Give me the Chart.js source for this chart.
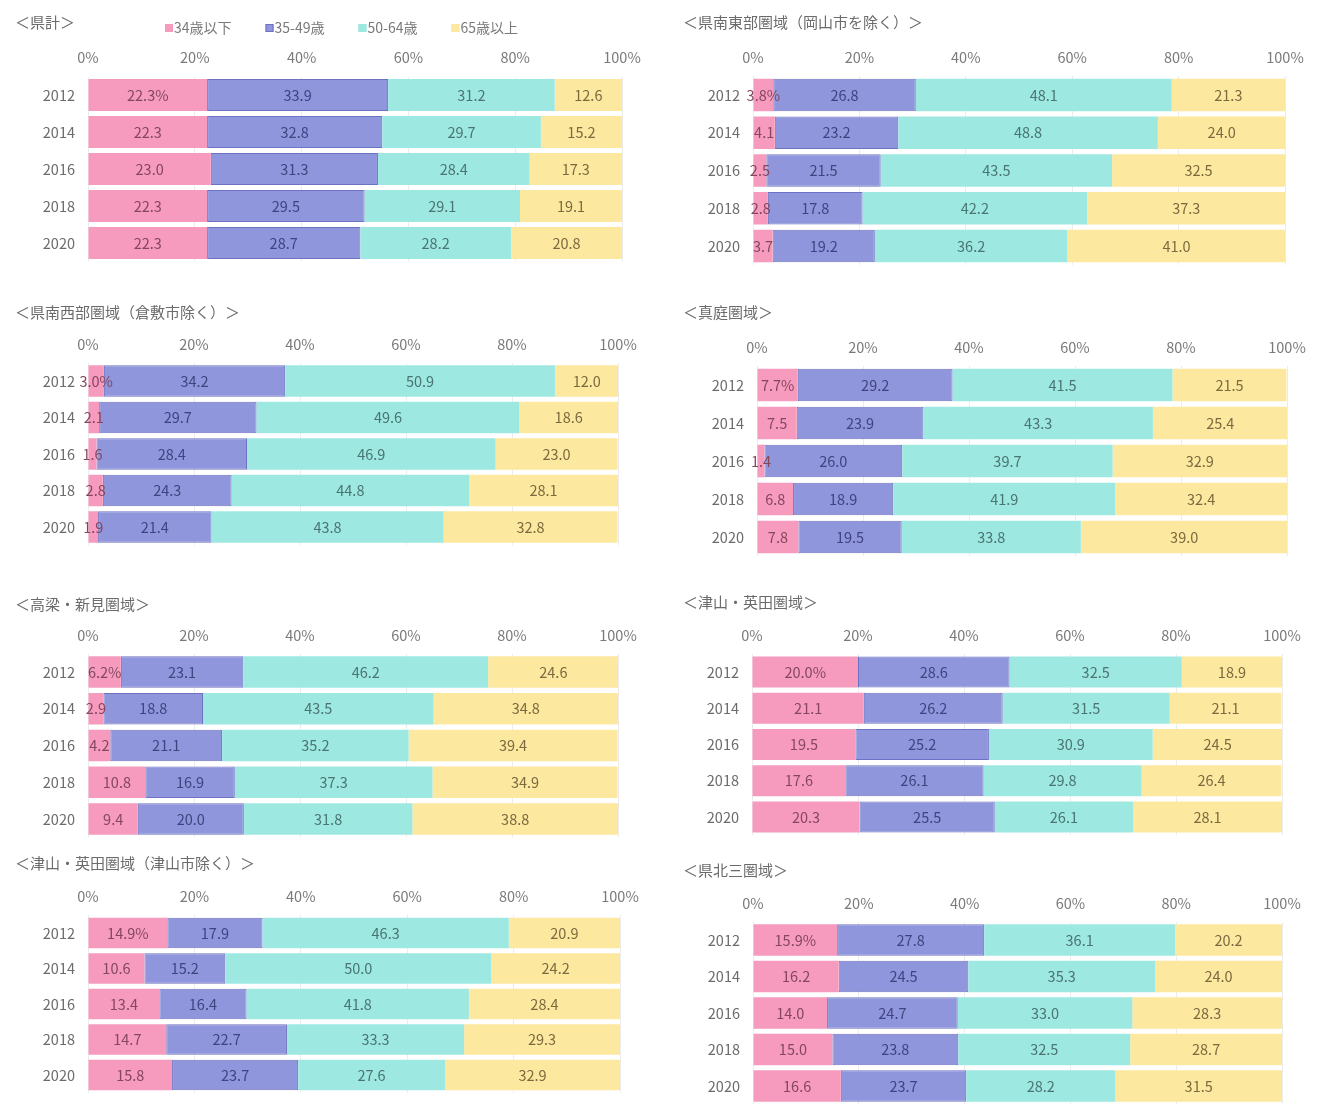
<!DOCTYPE html>
<html lang="ja">
<head>
<meta charset="utf-8">
<title>年齢構成の推移</title>
<script src="https://cdn.jsdelivr.net/npm/chart.js@4.4.1/dist/chart.umd.min.js"></script>
<style>
  html, body { margin: 0; padding: 0; background: #ffffff; }
  #wrap { position: relative; width: 1343px; height: 1110px; overflow: hidden; }
  #wrap canvas { position: absolute; }
</style>
</head>
<body>
<div id="wrap"></div>
<script>
// ---- data -------------------------------------------------------------
const years = ['2012', '2014', '2016', '2018', '2020'];
const seriesNames = ['34歳以下', '35-49歳', '50-64歳', '65歳以上'];
const xTicks = [0, 20, 40, 60, 80, 100];

// 県計
const total_u34   = [22.3, 22.3, 23.0, 22.3, 22.3];
const total_35_49 = [33.9, 32.8, 31.3, 29.5, 28.7];
const total_50_64 = [31.2, 29.7, 28.4, 29.1, 28.2];
const total_65    = [12.6, 15.2, 17.3, 19.1, 20.8];

// 県南東部圏域（岡山市を除く）
const southEast_u34   = [3.8, 4.1, 2.5, 2.8, 3.7];
const southEast_35_49 = [26.8, 23.2, 21.5, 17.8, 19.2];
const southEast_50_64 = [48.1, 48.8, 43.5, 42.2, 36.2];
const southEast_65    = [21.3, 24.0, 32.5, 37.3, 41.0];

// 県南西部圏域（倉敷市除く）
const southWest_u34   = [3.0, 2.1, 1.6, 2.8, 1.9];
const southWest_35_49 = [34.2, 29.7, 28.4, 24.3, 21.4];
const southWest_50_64 = [50.9, 49.6, 46.9, 44.8, 43.8];
const southWest_65    = [12.0, 18.6, 23.0, 28.1, 32.8];

// 真庭圏域
const maniwa_u34   = [7.7, 7.5, 1.4, 6.8, 7.8];
const maniwa_35_49 = [29.2, 23.9, 26.0, 18.9, 19.5];
const maniwa_50_64 = [41.5, 43.3, 39.7, 41.9, 33.8];
const maniwa_65    = [21.5, 25.4, 32.9, 32.4, 39.0];

// 高梁・新見圏域
const takahashi_u34   = [6.2, 2.9, 4.2, 10.8, 9.4];
const takahashi_35_49 = [23.1, 18.8, 21.1, 16.9, 20.0];
const takahashi_50_64 = [46.2, 43.5, 35.2, 37.3, 31.8];
const takahashi_65    = [24.6, 34.8, 39.4, 34.9, 38.8];

// 津山・英田圏域
const tsuyama_u34   = [20.0, 21.1, 19.5, 17.6, 20.3];
const tsuyama_35_49 = [28.6, 26.2, 25.2, 26.1, 25.5];
const tsuyama_50_64 = [32.5, 31.5, 30.9, 29.8, 26.1];
const tsuyama_65    = [18.9, 21.1, 24.5, 26.4, 28.1];

// 津山・英田圏域（津山市除く）
const tsuyamaEx_u34   = [14.9, 10.6, 13.4, 14.7, 15.8];
const tsuyamaEx_35_49 = [17.9, 15.2, 16.4, 22.7, 23.7];
const tsuyamaEx_50_64 = [46.3, 50.0, 41.8, 33.3, 27.6];
const tsuyamaEx_65    = [20.9, 24.2, 28.4, 29.3, 32.9];

// 県北三圏域
const north_u34   = [15.9, 16.2, 14.0, 15.0, 16.6];
const north_35_49 = [27.8, 24.5, 24.7, 23.8, 23.7];
const north_50_64 = [36.1, 35.3, 33.0, 32.5, 28.2];
const north_65    = [20.2, 24.0, 28.3, 28.7, 31.5];

// ---- styling ----------------------------------------------------------
const FONT = "'Noto Sans CJK JP', 'Noto Sans', sans-serif";
const NUM_SIZE = 14.5;
const fillColors  = ['#f69bbe', '#9096dc', '#9ee8e2', '#fde8a0'];
const edgeColors  = ['#f69bbe', '#6d72c2', '#9ee8e2', '#fde8a0'];
const edgeWidths  = [0, 1, 0, 0];
const labelColors = ['#84475f', '#3f4480', '#4a7572', '#7b6a3e'];

// panel frames: plot-area edges, first/last bar centres, tick row and heading
const panels = [
  { title: '＜県計＞', series: [total_u34, total_35_49, total_50_64, total_65],
    L: 0, W: 670, x0: 88, x100: 622, c0: 95, c4: 243, tickY: 57, tx: 15, ty: 22, legend: true },
  { title: '＜県南東部圏域（岡山市を除く）＞', series: [southEast_u34, southEast_35_49, southEast_50_64, southEast_65],
    L: 670, W: 673, x0: 753, x100: 1285, c0: 95, c4: 246, tickY: 57, tx: 683, ty: 22 },
  { title: '＜県南西部圏域（倉敷市除く）＞', series: [southWest_u34, southWest_35_49, southWest_50_64, southWest_65],
    L: 0, W: 670, x0: 88, x100: 618, c0: 381, c4: 527, tickY: 344, tx: 15, ty: 312 },
  { title: '＜真庭圏域＞', series: [maniwa_u34, maniwa_35_49, maniwa_50_64, maniwa_65],
    L: 670, W: 673, x0: 757, x100: 1287, c0: 385, c4: 537, tickY: 347, tx: 683, ty: 312 },
  { title: '＜高梁・新見圏域＞', series: [takahashi_u34, takahashi_35_49, takahashi_50_64, takahashi_65],
    L: 0, W: 670, x0: 88, x100: 618, c0: 672, c4: 819, tickY: 635, tx: 15, ty: 604 },
  { title: '＜津山・英田圏域＞', series: [tsuyama_u34, tsuyama_35_49, tsuyama_50_64, tsuyama_65],
    L: 670, W: 673, x0: 752, x100: 1282, c0: 672, c4: 817, tickY: 635, tx: 683, ty: 602 },
  { title: '＜津山・英田圏域（津山市除く）＞', series: [tsuyamaEx_u34, tsuyamaEx_35_49, tsuyamaEx_50_64, tsuyamaEx_65],
    L: 0, W: 670, x0: 88, x100: 620, c0: 933, c4: 1075, tickY: 896, tx: 15, ty: 863 },
  { title: '＜県北三圏域＞', series: [north_u34, north_35_49, north_50_64, north_65],
    L: 670, W: 673, x0: 753, x100: 1282, c0: 940, c4: 1086, tickY: 903, tx: 683, ty: 870 }
];

// value labels centred on each segment; the first segment of the first row carries "%"
const segmentLabels = {
  id: 'segmentLabels',
  afterDatasetsDraw(chart) {
    const ctx = chart.ctx;
    ctx.save();
    ctx.font = NUM_SIZE + 'px ' + FONT;
    ctx.textAlign = 'center';
    ctx.textBaseline = 'middle';
    chart.data.datasets.forEach((ds, di) => {
      const meta = chart.getDatasetMeta(di);
      meta.data.forEach((bar, i) => {
        const v = ds.data[i];
        const text = v.toFixed(1) + (di === 0 && i === 0 ? '%' : '');
        ctx.fillStyle = labelColors[di];
        ctx.fillText(text, (bar.x + bar.base) / 2, bar.y);
      });
    });
    ctx.restore();
  }
};

// panel heading and (first panel only) the series key
const panelHead = {
  id: 'panelHead',
  afterDraw(chart, args, opts) {
    const ctx = chart.ctx;
    ctx.save();
    ctx.textBaseline = 'middle';
    ctx.textAlign = 'left';
    ctx.fillStyle = '#6b6b6b';
    ctx.font = '15px ' + FONT;
    ctx.fillText(opts.text, opts.x, opts.y);
    if (opts.legend) {
      ctx.font = '14px ' + FONT;
      let x = opts.legendX;
      chart.data.datasets.forEach((ds, di) => {
        ctx.fillStyle = fillColors[di];
        ctx.fillRect(x, opts.legendY - 4, 8, 8);
        ctx.strokeStyle = edgeColors[di];
        ctx.lineWidth = 1;
        ctx.strokeRect(x + 0.5, opts.legendY - 3.5, 7, 7);
        ctx.fillStyle = '#7a7a7a';
        ctx.fillText(ds.label, x + 9, opts.legendY);
        x += 9 + ctx.measureText(ds.label).width + 34;
      });
    }
    ctx.restore();
  }
};

const wrap = document.getElementById('wrap');
const LINE_H = NUM_SIZE * 1.2;

panels.forEach(p => {
  const step = (p.c4 - p.c0) / 4;
  const plotTop = p.c0 - step / 2;
  const plotBottom = p.c4 + step / 2;
  const T = p.ty - 16;
  const H = Math.ceil(plotBottom + 30 - T);
  const xAxisH = plotTop - T;
  const yAxisW = p.x0 - p.L;

  const canvas = document.createElement('canvas');
  canvas.width = p.W;
  canvas.height = H;
  canvas.style.left = p.L + 'px';
  canvas.style.top = T + 'px';
  canvas.style.width = p.W + 'px';
  canvas.style.height = H + 'px';
  wrap.appendChild(canvas);

  new Chart(canvas, {
    type: 'bar',
    data: {
      labels: years,
      datasets: p.series.map((vals, di) => ({
        label: seriesNames[di],
        data: vals,
        backgroundColor: fillColors[di],
        borderColor: edgeColors[di],
        borderWidth: edgeWidths[di],
        borderSkipped: false,
        categoryPercentage: 1,
        barPercentage: 0.86
      }))
    },
    options: {
      indexAxis: 'y',
      responsive: false,
      animation: false,
      devicePixelRatio: 1,
      layout: { padding: { left: 0, top: 0, right: p.L + p.W - p.x100, bottom: T + H - plotBottom } },
      plugins: {
        legend: { display: false },
        tooltip: { enabled: false },
        title: { display: false },
        panelHead: {
          text: p.title, x: p.tx - p.L, y: p.ty - T,
          legend: !!p.legend, legendX: 165 - p.L, legendY: 28 - T
        }
      },
      scales: {
        x: {
          position: 'top',
          stacked: true,
          min: xTicks[0],
          max: xTicks[xTicks.length - 1],
          afterBuildTicks: s => { s.ticks = xTicks.map(v => ({ value: v })); },
          afterFit: s => { s.height = xAxisH; },
          ticks: {
            callback: v => v + '%',
            color: '#7a7a7a',
            font: { family: FONT, size: NUM_SIZE },
            padding: plotTop - p.tickY - LINE_H / 2,
            maxRotation: 0
          },
          grid: { color: '#ececec', drawTicks: false },
          border: { display: false }
        },
        y: {
          stacked: true,
          afterFit: s => { s.width = yAxisW; },
          ticks: {
            color: '#6b6b6b',
            font: { family: FONT, size: NUM_SIZE },
            padding: 13
          },
          grid: { display: false, drawTicks: false },
          border: { display: false }
        }
      }
    },
    plugins: [segmentLabels, panelHead]
  });
});
</script>
</body>
</html>
